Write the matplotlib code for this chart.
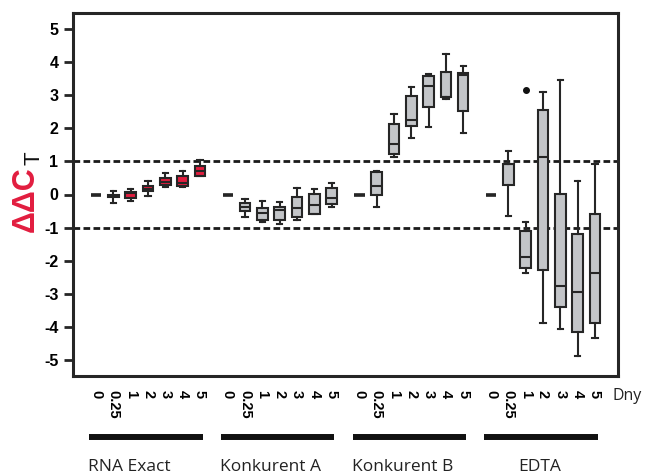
import matplotlib
matplotlib.use("Agg")
import matplotlib.pyplot as plt
import matplotlib.transforms as mtransforms

# ---------------- data ----------------
days = ["0", "0.25", "1", "2", "3", "4", "5"]
groups = ["RNA Exact", "Konkurent A", "Konkurent B", "EDTA"]

rna_med = [0, -0.05, 0.05, 0.18, 0.37, 0.34, 0.70]
rna_q1 = [0, -0.08, -0.10, 0.10, 0.30, 0.27, 0.56]
rna_q3 = [0, -0.02, 0.09, 0.26, 0.50, 0.57, 0.85]
rna_lo = [0, -0.25, -0.21, -0.05, 0.22, 0.24, 0.55]
rna_hi = [0, 0.10, 0.16, 0.41, 0.66, 0.71, 1.05]

ka_med = [0, -0.37, -0.55, -0.48, -0.40, -0.33, -0.12]
ka_q1 = [0, -0.50, -0.76, -0.77, -0.67, -0.60, -0.29]
ka_q3 = [0, -0.25, -0.40, -0.38, -0.07, 0.02, 0.20]
ka_lo = [0, -0.69, -0.82, -0.89, -0.78, -0.60, -0.38]
ka_hi = [0, -0.14, -0.21, -0.22, 0.20, 0.18, 0.36]

kb_med = [0, 0.26, 1.52, 2.24, 3.27, 2.95, 3.60]
kb_q1 = [0, -0.03, 1.21, 2.06, 2.65, 2.93, 2.52]
kb_q3 = [0, 0.68, 2.13, 2.97, 3.58, 3.70, 3.67]
kb_lo = [0, -0.37, 1.13, 1.71, 2.04, 2.87, 1.86]
kb_hi = [0, 0.70, 2.42, 3.25, 3.64, 4.23, 3.87]

edta_med = [0, 0.92, -1.89, 1.14, -2.75, -2.94, -2.36]
edta_q1 = [0, 0.28, -2.23, -2.28, -3.40, -4.15, -3.87]
edta_q3 = [0, 0.93, -1.10, 2.55, 0.01, -1.20, -0.58]
edta_lo = [0, -0.64, -2.38, -3.89, -4.05, -4.88, -4.33]
edta_hi = [0, 1.30, -0.82, 3.10, 3.45, 0.40, 0.93]
edta_fliers = [[], [], [3.17], [], [], [], []]

group_stats = [
    (rna_med, rna_q1, rna_q3, rna_lo, rna_hi, [[]] * 7),
    (ka_med, ka_q1, ka_q3, ka_lo, ka_hi, [[]] * 7),
    (kb_med, kb_q1, kb_q3, kb_lo, kb_hi, [[]] * 7),
    (edta_med, edta_q1, edta_q3, edta_lo, edta_hi, edta_fliers),
]
group_colors = ["#e21d3f", "#c3c5c8", "#c3c5c8", "#c3c5c8"]

# ---------------- figure ----------------
W, H = 648, 474
fig = plt.figure(figsize=(W / 100, H / 100), dpi=100)
ax = fig.add_axes([73 / W, 1 - 376 / H, (618 - 73) / W, (376 - 13) / H])

edge = "#262626"
group_step = 7.6
positions_all, labels_all = [], []

for g, (med, q1, q3, lo, hi, fl) in enumerate(group_stats):
    pos = [g * group_step + i for i in range(len(days))]
    stats = []
    for i in range(len(days)):
        stats.append(dict(med=med[i], q1=q1[i], q3=q3[i],
                          whislo=lo[i], whishi=hi[i], fliers=fl[i]))
    art = ax.bxp(stats, positions=pos, widths=0.6, capwidths=0.3,
                 patch_artist=True, manage_ticks=False,
                 boxprops=dict(facecolor=group_colors[g], edgecolor=edge, linewidth=1.5),
                 medianprops=dict(color=edge, linewidth=1.5),
                 whiskerprops=dict(color=edge, linewidth=1.5),
                 capprops=dict(color=edge, linewidth=1.5),
                 flierprops=dict(marker="o", markerfacecolor="#111111",
                                 markeredgecolor="#111111", markersize=4))
    for i, s in enumerate(stats):
        if s["q1"] == s["q3"]:
            art["medians"][i].set_linewidth(2.6)
            art["medians"][i].set_solid_capstyle("butt")
    positions_all += pos
    labels_all += days

# dashed reference lines
for yv in (1, -1):
    ax.axhline(yv, color="#1a1a1a", linewidth=2, linestyle=(0, (2.4, 1.2)), zorder=1)

ax.set_xlim(-1.33, 3 * group_step + 6 + 1.33)
ax.set_ylim(-5.48, 5.48)
ax.set_yticks(range(-5, 6))
ax.set_yticklabels([str(v) for v in range(-5, 6)], fontfamily="Liberation Sans",
                   fontweight="bold", fontsize=11.5)
ax.set_xticks(positions_all)
ax.set_xticklabels(labels_all, rotation=-90, fontfamily="Liberation Sans",
                   fontweight="bold", fontsize=10.5, va="top", ha="center")
ax.tick_params(axis="x", length=0, pad=10)
ax.tick_params(axis="y", length=6.5, width=2, color=edge, pad=4)
for sp in ax.spines.values():
    sp.set_linewidth(2.2)
    sp.set_color(edge)

# group bars and labels
trans = mtransforms.blended_transform_factory(ax.transData, fig.transFigure)
for g, name in enumerate(groups):
    x0 = g * group_step
    ax.plot([x0 - 0.38, x0 + 6.15], [1 - 437 / H, 1 - 437 / H], transform=trans,
            color="#111111", linewidth=4.3, solid_capstyle="butt", clip_on=False)
    if g < 3:
        ax.text(x0 - 0.45, 0.006, name, transform=trans, ha="left", va="baseline",
                fontfamily="Open Sans", fontsize=12.5, color="#222222")
    else:
        ax.text(x0 + 2.8, 0.006, name, transform=trans, ha="center", va="baseline",
                fontfamily="Open Sans", fontsize=12.5, color="#222222")

fig.text(613 / W, 1 - 400 / H, "Dny", ha="left", va="baseline",
         fontfamily="Open Sans", fontsize=11.5, color="#222222")

# y label: ΔΔC (red) with subscript T (black)
fig.text(34 / W, 1 - 232 / H, "ΔΔC", rotation=90, rotation_mode="anchor",
         ha="left", va="baseline", color="#e21d3f", fontweight="bold",
         fontfamily="Liberation Sans", fontsize=22)
fig.text(40 / W, 1 - 165 / H, "T", rotation=90, rotation_mode="anchor",
         ha="left", va="baseline", color="#111111",
         fontfamily="Liberation Sans", fontsize=16)

fig.savefig("out.png", dpi=100)
